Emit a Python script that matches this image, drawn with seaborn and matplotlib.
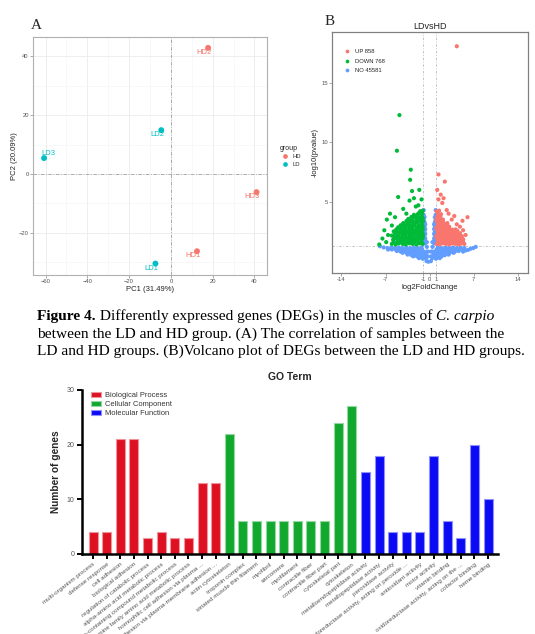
import matplotlib
matplotlib.use('Agg')
import matplotlib.pyplot as plt
import matplotlib.colors as mcolors
import numpy as np
import pandas as pd
import seaborn as sns

# ---- panel A: PCA of samples
pca_samples = ['HD1', 'HD2', 'HD3', 'LD1', 'LD2', 'LD3']
pca_group = ['HD', 'HD', 'HD', 'LD', 'LD', 'LD']
pca_pc1 = [12.5, 17.8, 41.0, -7.4, -4.6, -60.7]
pca_pc2 = [-26.3, 42.9, -6.2, -30.5, 14.9, 5.4]

# ---- panel B: volcano
volcano_status = ['UP', 'DOWN', 'NO']
volcano_counts = [858, 768, 45581]
up_points = [
    (4.3, 18.1), (1.4, 7.3), (2.4, 6.7), (1.75, 5.6), (1.4, 5.2), (2.7, 4.3), (6.0, 3.7),
    (5.2, 3.4), (3.5, 3.5), (4.3, 3.1), (5.3, 2.6), (2.0, 4.9), (3.0, 4.0), (1.2, 6.0),
    (4.8, 2.9), (5.7, 2.2), (3.9, 3.8), (2.2, 5.3),
    (1.1, 1.45), (1.6, 1.4), (2.1, 1.5), (2.6, 1.45), (3.1, 1.4), (3.6, 1.5), (4.1, 1.45), (4.6, 1.4), (5.1, 1.5), (5.5, 1.45),
    (1.3, 1.62), (1.8, 1.6), (2.3, 1.65), (2.8, 1.62), (3.3, 1.6), (3.8, 1.65), (4.3, 1.62), (4.8, 1.6), (5.3, 1.65),
    (1.3, 1.8), (1.9, 1.85), (2.4, 1.75), (2.9, 1.8), (3.4, 1.85), (3.9, 1.8), (4.4, 1.75), (4.9, 1.8), (5.3, 1.85),
    (1.1, 1.97), (1.6, 2.0), (2.1, 1.95), (2.6, 1.97), (3.1, 2.0), (3.6, 1.95), (4.1, 1.97), (4.6, 2.0), (5.0, 1.95),
    (1.1, 2.15), (1.6, 2.2), (2.1, 2.1), (2.6, 2.15), (3.1, 2.2), (3.6, 2.1), (4.1, 2.15), (4.6, 2.2), (5.1, 2.1),
    (1.3, 2.32), (1.8, 2.35), (2.3, 2.3), (2.8, 2.32), (3.3, 2.35), (3.8, 2.3), (4.3, 2.32), (4.8, 2.35),
    (1.3, 2.5), (1.9, 2.45), (2.4, 2.55), (2.9, 2.5), (3.4, 2.45), (3.9, 2.5), (4.4, 2.55),
    (1.1, 2.67), (1.6, 2.7), (2.1, 2.65), (2.6, 2.67), (3.1, 2.7), (3.6, 2.65), (4.1, 2.67),
    (1.1, 2.85), (1.6, 2.9), (2.1, 2.8), (2.6, 2.85), (3.1, 2.9),
    (1.3, 3.02), (1.8, 3.05), (2.3, 3.0), (2.8, 3.02),
    (1.3, 3.2), (1.9, 3.25), (2.4, 3.15), (2.8, 3.2),
    (1.1, 3.37), (1.6, 3.4), (2.1, 3.35),
    (1.1, 3.55), (1.6, 3.6), (2.1, 3.5), (1.2, 3.72), (1.7, 3.75),
    (1.3, 3.9), (1.8, 3.95), (1.3, 4.05), (1.1, 4.2), (1.5, 4.25),
]
down_points = [
    (-4.8, 12.3), (-5.2, 9.3), (-3.0, 7.7), (-3.1, 6.85), (-2.8, 5.9), (-1.65, 6.0), (-5.0, 5.4),
    (-3.2, 5.1), (-2.2, 4.6), (-6.3, 4.0), (-5.5, 3.7), (-3.7, 4.0), (-8.0, 1.4), (-6.8, 3.5),
    (-7.2, 2.6), (-6.6, 2.2), (-7.5, 1.9), (-1.3, 5.2), (-2.5, 5.3), (-4.2, 4.4), (-1.8, 4.7),
    (-6.0, 3.0), (-6.9, 1.6),
    (-6.0, 1.45), (-5.4, 1.4), (-4.9, 1.5), (-4.3, 1.45), (-3.8, 1.4), (-3.2, 1.5), (-2.7, 1.45), (-2.1, 1.4), (-1.6, 1.5), (-1.1, 1.45),
    (-5.7, 1.62), (-5.1, 1.6), (-4.6, 1.65), (-4.0, 1.62), (-3.5, 1.6), (-2.9, 1.65), (-2.4, 1.62), (-1.8, 1.6), (-1.3, 1.65),
    (-5.8, 1.8), (-5.2, 1.85), (-4.6, 1.75), (-4.1, 1.8), (-3.5, 1.85), (-3.0, 1.8), (-2.4, 1.75), (-1.9, 1.8), (-1.3, 1.85),
    (-5.6, 1.97), (-5.0, 2.0), (-4.4, 1.95), (-3.8, 1.97), (-3.3, 2.0), (-2.7, 1.95), (-2.2, 1.97), (-1.6, 2.0), (-1.1, 1.95),
    (-6.0, 2.15), (-5.4, 2.2), (-4.9, 2.1), (-4.3, 2.15), (-3.8, 2.2), (-3.2, 2.1), (-2.7, 2.15), (-2.1, 2.2), (-1.6, 2.1), (-1.1, 2.15),
    (-5.5, 2.32), (-4.9, 2.35), (-4.4, 2.3), (-3.8, 2.32), (-3.2, 2.35), (-2.7, 2.3), (-2.2, 2.32), (-1.6, 2.35), (-1.1, 2.3),
    (-5.7, 2.5), (-5.2, 2.45), (-4.6, 2.55), (-4.1, 2.5), (-3.5, 2.45), (-3.0, 2.5), (-2.4, 2.55), (-1.9, 2.5), (-1.3, 2.45),
    (-5.3, 2.67), (-4.8, 2.7), (-4.3, 2.65), (-3.8, 2.67), (-3.2, 2.7), (-2.7, 2.65), (-2.1, 2.67), (-1.5, 2.7), (-1.1, 2.65),
    (-5.0, 2.85), (-4.4, 2.9), (-3.8, 2.8), (-3.2, 2.85), (-2.7, 2.9), (-2.1, 2.8), (-1.6, 2.85), (-1.1, 2.9),
    (-4.6, 3.02), (-4.0, 3.05), (-3.5, 3.0), (-2.9, 3.02), (-2.4, 3.05), (-1.8, 3.0), (-1.2, 3.02),
    (-4.2, 3.2), (-3.5, 3.25), (-3.0, 3.15), (-2.4, 3.2), (-1.9, 3.25), (-1.3, 3.2),
    (-3.7, 3.37), (-3.2, 3.4), (-2.7, 3.35), (-2.1, 3.37), (-1.5, 3.4), (-1.05, 3.35),
    (-3.4, 3.55), (-2.7, 3.6), (-2.1, 3.5), (-1.6, 3.55), (-1.1, 3.6),
    (-2.9, 3.72), (-2.3, 3.75), (-1.8, 3.7), (-1.2, 3.72),
    (-2.5, 3.9), (-1.9, 3.95), (-1.3, 3.9), (-1.7, 4.05), (-1.2, 4.05), (-1.5, 4.2), (-1.1, 4.25),
]
no_points = [
    (-7.9, 1.25), (-7.3, 1.15), (-6.7, 1.1), (-6.1, 1.15), (-5.5, 1.1), (-4.9, 1.15), (-4.3, 1.1),
    (-3.7, 1.15), (-3.1, 1.1), (-2.5, 1.15), (-1.9, 1.1), (-1.3, 1.15),
    (-6.6, 0.98), (-6.0, 0.98), (-5.4, 0.98), (-4.8, 0.98), (-4.2, 0.98), (-3.6, 0.98), (-3.0, 0.98),
    (-2.4, 0.98), (-1.8, 0.98), (-1.2, 0.98),
    (-5.2, 0.85), (-4.6, 0.8), (-4.0, 0.85), (-3.4, 0.8), (-2.8, 0.85), (-2.2, 0.8), (-1.6, 0.85), (-1.0, 0.8),
    (-4.3, 0.7), (-3.7, 0.7), (-3.1, 0.7), (-2.5, 0.7), (-1.9, 0.7), (-1.3, 0.7), (-0.8, 0.7),
    (-3.5, 0.55), (-2.9, 0.5), (-2.3, 0.55), (-1.7, 0.5), (-1.1, 0.55), (-0.6, 0.5),
    (-2.6, 0.4), (-2.0, 0.4), (-1.4, 0.4), (-0.9, 0.4),
    (-1.7, 0.25), (-1.1, 0.2), (-0.6, 0.25), (-0.5, 0.0), (-0.2, -0.05),
    (-0.95, 1.5), (-0.95, 1.9), (-0.95, 2.3), (-0.95, 2.7), (-0.95, 3.1), (-0.95, 3.5), (-0.95, 3.9), (-0.95, 4.3),
    (-0.82, 1.7), (-0.82, 2.1), (-0.82, 2.5), (-0.82, 2.9), (-0.82, 3.3), (-0.82, 3.7),
    (-0.7, 1.5), (-0.7, 1.9), (-0.7, 2.3), (-0.7, 2.7), (-0.7, 3.1),
    (-0.45, 0.8), (-0.45, 1.2), (-0.45, 1.6), (-0.25, 0.4), (-0.25, 0.8),
    (0.25, 0.4), (0.25, 0.8), (0.45, 0.8), (0.45, 1.2), (0.45, 1.6),
    (0.7, 1.5), (0.7, 1.9), (0.7, 2.3), (0.7, 2.7), (0.7, 3.1),
    (0.82, 1.7), (0.82, 2.1), (0.82, 2.5), (0.82, 2.9), (0.82, 3.3), (0.82, 3.7),
    (0.95, 1.5), (0.95, 1.9), (0.95, 2.3), (0.95, 2.7), (0.95, 3.1), (0.95, 3.5), (0.95, 3.9), (0.95, 4.3),
    (1.3, 1.15), (1.9, 1.1), (2.5, 1.15), (3.1, 1.1), (3.7, 1.15), (4.3, 1.1), (4.9, 1.15), (5.5, 1.1),
    (1.1, 0.98), (1.7, 0.98), (2.3, 0.98), (2.9, 0.98), (3.5, 0.98), (4.1, 0.98), (4.7, 0.98), (5.3, 0.98),
    (1.0, 0.85), (1.6, 0.8), (2.2, 0.85), (2.8, 0.8), (3.4, 0.85), (4.0, 0.8), (4.6, 0.85),
    (0.8, 0.7), (1.4, 0.7), (2.0, 0.7), (2.6, 0.7), (3.2, 0.7), (3.8, 0.7),
    (0.6, 0.55), (1.2, 0.5), (1.8, 0.55), (2.4, 0.5), (3.0, 0.55),
    (0.7, 0.4), (1.3, 0.4), (1.9, 0.4),
    (0.4, 0.25), (1.0, 0.2), (1.6, 0.25), (0.2, 0.0),
    (5.3, 0.8), (5.7, 0.9), (6.1, 0.95), (6.5, 1.05), (6.9, 1.1), (7.3, 1.2),
]

# ---- GO term enrichment
go_terms = [
    'multi-organism process', 'defense response', 'cell adhesion', 'biological adhesion',
    'regulation of catabolic process', 'alpha-amino acid metabolic process',
    'benzene-containing compound metabolic process', 'glutamine family amino acid metabolic process',
    'homophilic cell adhesion via plasma ...', 'cell-cell adhesion via plasma-membrane adhesion ...',
    'actin cytoskeleton', 'troponin complex', 'striated muscle thin filament', 'myofibril',
    'sarcomere', 'myofilament', 'contractile fiber', 'contractile fiber part',
    'cytoskeletal part', 'cytoskeleton',
    'metalloendopeptidase activity', 'metallopeptidase activity', 'peroxidase activity',
    'oxidoreductase activity, acting on peroxide ...', 'antioxidant activity', 'motor activity',
    'vitamin binding', 'oxidoreductase activity, acting on the ...', 'cofactor binding', 'heme binding',
]
go_counts = [4, 4, 21, 21, 3, 4, 3, 3, 13, 13,
             22, 6, 6, 6, 6, 6, 6, 6, 24, 27,
             15, 18, 4, 4, 4, 18, 6, 3, 20, 10]
go_categories = ['Biological Process', 'Cellular Component', 'Molecular Function']
go_category = [go_categories[0]] * 10 + [go_categories[1]] * 10 + [go_categories[2]] * 10

sns.set_theme(style='white')
plt.rcParams['font.family'] = ['Liberation Sans', 'DejaVu Sans']

W, H = 535, 634
fig = plt.figure(figsize=(W / 100, H / 100), dpi=100)


def box(l, t, r, b):
    return [l / W, 1 - b / H, (r - l) / W, (b - t) / H]


# ================= panel A
axA = fig.add_axes(box(33, 37, 267, 275))
group_colors = {'HD': '#F8766D', 'LD': '#00BFC4'}
pca_df = pd.DataFrame({'sample': pca_samples, 'group': pca_group, 'PC1': pca_pc1, 'PC2': pca_pc2})
axA.set_xticks([-60, -40, -20, 0, 20, 40])
axA.set_xticks([-50, -30, -10, 10, 30], minor=True)
axA.set_yticks([-20, 0, 20, 40])
axA.set_yticks([-30, -10, 10, 30], minor=True)
axA.grid(True, which='major', color='#EBEBEB', lw=0.6)
axA.grid(True, which='minor', color='#F4F4F4', lw=0.4)
axA.axhline(0, color='#A0A0A0', lw=0.6, ls=(0, (4, 2, 1, 2)), zorder=1)
axA.axvline(0, color='#A0A0A0', lw=0.6, ls=(0, (4, 2, 1, 2)), zorder=1)
sns.scatterplot(data=pca_df, x='PC1', y='PC2', hue='group', hue_order=['HD', 'LD'],
                palette=group_colors, s=18, linewidth=0, ax=axA, zorder=3)
for _, r in pca_df.iterrows():
    off = (3, 3) if r['sample'] == 'LD3' else (-3, -3.3)
    axA.annotate(r['sample'], (r['PC1'], r['PC2']), xytext=off, textcoords='offset points',
                 ha='center', va='center', fontsize=5.5, color=group_colors[r['group']])
axA.set_xlim(-66, 46)
axA.set_ylim(-34.4, 46.6)
axA.set_xlabel('PC1 (31.49%)', fontsize=5.5, color='#222222', labelpad=1)
axA.set_ylabel('PC2 (20.09%)', fontsize=5.5, color='#222222', labelpad=1)
axA.tick_params(axis='both', which='major', labelsize=4.2, labelcolor='#555555',
                length=2, width=0.5, color='#888888', pad=1, bottom=True, left=True)
axA.tick_params(axis='both', which='minor', length=0)
for s in axA.spines.values():
    s.set_color('#B0B0B0')
    s.set_linewidth(0.8)
legA = axA.legend(title='group', loc='center left', bbox_to_anchor=(1.03, 0.50), frameon=False,
                  fontsize=4.2, title_fontsize=5, markerscale=0.8, handletextpad=0.3,
                  labelspacing=0.5)
legA._legend_box.align = 'left'
fig.text(31 / W, 1 - 29 / H, 'A', family='Liberation Serif', fontsize=11, va='baseline')

# ================= panel B
axB = fig.add_axes(box(332, 32, 528, 273))
status_labels = [f'{s} {c}' for s, c in zip(volcano_status, volcano_counts)]
status_colors = dict(zip(status_labels, ['#F8766D', '#00BA38', '#619CFF']))
vol_df = pd.concat([
    pd.DataFrame(no_points, columns=['log2FoldChange', 'logp']).assign(status=status_labels[2]),
    pd.DataFrame(down_points, columns=['log2FoldChange', 'logp']).assign(status=status_labels[1]),
    pd.DataFrame(up_points, columns=['log2FoldChange', 'logp']).assign(status=status_labels[0]),
], ignore_index=True)
sns.scatterplot(data=vol_df, x='log2FoldChange', y='logp', hue='status', hue_order=status_labels,
                palette=status_colors, s=9, linewidth=0, ax=axB, zorder=3)
for xv in (-1, 1):
    axB.axvline(xv, color='#BBBBBB', lw=0.6, ls=(0, (3, 2, 1, 2)), zorder=1)
axB.axhline(1.3, color='#BBBBBB', lw=0.6, ls=(0, (3, 2, 1, 2)), zorder=1)
axB.set_xlim(-15.5, 15.6)
axB.set_ylim(-1.0, 19.3)
axB.set_xticks([-14, -7, -1, 0, 1, 7, 14])
axB.set_xticklabels(['-14', '-7', '-1', '0', '1', '7', '14'])
axB.set_yticks([5, 10, 15])
axB.set_yticklabels(['5', '10', '15'])
axB.tick_params(axis='both', labelsize=4.2, labelcolor='#555555', length=2, width=0.5,
                color='#888888', pad=1, bottom=True, left=True)
axB.set_xlabel('log2FoldChange', fontsize=5.5, color='#222222', labelpad=1)
axB.set_ylabel('-log10(pvalue)', fontsize=5.5, color='#222222', labelpad=2)
axB.set_title('LDvsHD', fontsize=6.5, color='#222222', pad=2)
for s in axB.spines.values():
    s.set_color('#808080')
    s.set_linewidth(0.9)
axB.legend(loc='upper left', bbox_to_anchor=(0.02, 0.95), frameon=False, fontsize=4.2,
           markerscale=0.9, handletextpad=0.4, labelspacing=0.7)
fig.text(325 / W, 1 - 25 / H, 'B', family='Liberation Serif', fontsize=11, va='baseline')

# ================= caption
cap_lines = [
    [('Figure 4.', 'bold', 'normal'),
     (' Differently expressed genes (DEGs) in the muscles of ', 'normal', 'normal'),
     ('C. carpio', 'normal', 'italic')],
    [('between the LD and HD group. (A) The correlation of samples between the', 'normal', 'normal')],
    [('LD and HD groups. (B)Volcano plot of DEGs between the LD and HD groups.', 'normal', 'normal')],
]
cap_baselines = [320, 337.7, 355.3]
renderer = fig.canvas.get_renderer()
for line, base in zip(cap_lines, cap_baselines):
    xpx = 37
    for txt, weight, style in line:
        t = fig.text(xpx / W, 1 - base / H, txt, family='Liberation Serif', fontsize=11.1,
                     fontweight=weight, fontstyle=style, va='baseline', ha='left', color='black')
        xpx += t.get_window_extent(renderer).width

# ================= GO term bar chart
axG = fig.add_axes(box(82, 390, 498, 554))
go_colors = dict(zip(go_categories, ['#DD1122', '#11A82E', '#0A0AF5']))
sns.barplot(x=go_terms, y=go_counts, hue=go_category, hue_order=go_categories, palette=go_colors,
            dodge=False, width=0.66, saturation=1, ax=axG, legend=True)


def lighter(c, f=0.55):
    r, g, b = mcolors.to_rgb(c)
    return (r + (1 - r) * f, g + (1 - g) * f, b + (1 - b) * f)


for p in axG.patches:
    p.set_edgecolor(lighter(p.get_facecolor()))
    p.set_linewidth(0.8)

axG.set_xlim(-0.81, 29.73)
axG.set_ylim(0, 30)
axG.set_yticks([0, 10, 20, 30])
axG.set_xticks(range(len(go_terms)))
axG.set_xticklabels(go_terms, rotation=38, ha='right', rotation_mode='anchor',
                    fontsize=4.5, color='#555555')
axG.tick_params(axis='x', direction='out', length=3.5, width=1.4, color='black', pad=2, bottom=True)
axG.tick_params(axis='y', direction='out', length=3.5, width=1.4, color='black', pad=2,
                labelsize=5, labelcolor='#555555', left=True)
sns.despine(ax=axG)
axG.spines['left'].set_linewidth(1.8)
axG.spines['bottom'].set_linewidth(1.8)
axG.spines['left'].set_color('black')
axG.spines['bottom'].set_color('black')
axG.set_xlabel('')
axG.set_ylabel('Number of genes', fontsize=7.3, fontweight='bold')
axG.yaxis.set_label_coords(-0.05, 0.5)
axG.set_title('GO Term', fontsize=7.5, fontweight='bold', pad=7)
handles, labels = axG.get_legend_handles_labels()
for h in handles:
    h.set_edgecolor(lighter(h.get_facecolor()))
    h.set_linewidth(0.8)
axG.legend(handles, labels, loc='upper left', bbox_to_anchor=(0.01, 1.02), frameon=False,
           fontsize=5.4, handlelength=1.3, handleheight=0.65, handletextpad=0.5, labelspacing=0.25,
           borderpad=0.2, labelcolor='#333333')

fig.savefig('out.png', dpi=100)
